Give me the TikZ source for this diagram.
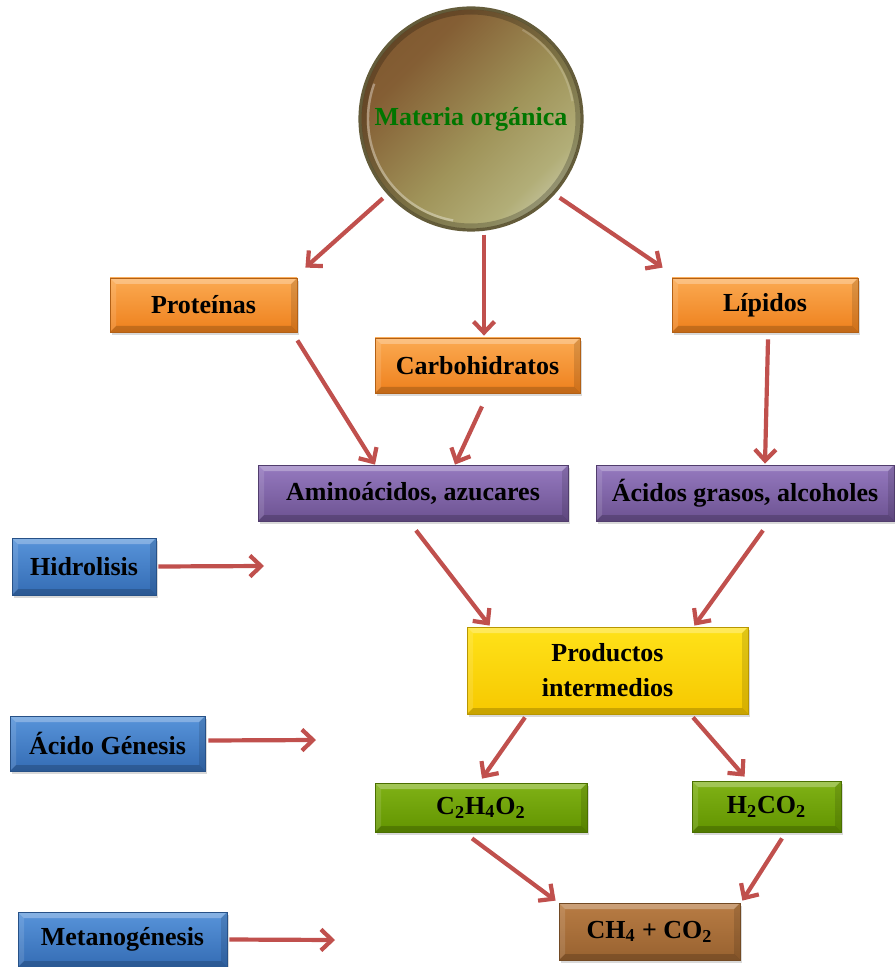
\documentclass[tikz,border=0pt]{standalone}
\usepackage{tikz}
\usepackage{fontspec}
\setmainfont{Liberation Serif}
\usetikzlibrary{arrows.meta,shadows,calc}

% fill colours (top / bottom of each shaded box)
\definecolor{orT}{RGB}{251,170,82}
\definecolor{orB}{RGB}{238,128,28}
\definecolor{puT}{RGB}{150,122,192}
\definecolor{puB}{RGB}{108,82,145}
\definecolor{blT}{RGB}{88,148,218}
\definecolor{blB}{RGB}{52,108,180}
\definecolor{yeT}{RGB}{255,226,25}
\definecolor{yeB}{RGB}{246,200,0}
\definecolor{grT}{RGB}{128,178,22}
\definecolor{grB}{RGB}{98,148,0}
\definecolor{brT}{RGB}{184,124,68}
\definecolor{brB}{RGB}{152,98,48}
\definecolor{arrowred}{RGB}{192,80,77}
\definecolor{orgtext}{RGB}{0,118,0}
\definecolor{rim}{RGB}{100,92,58}

% sphere colours
\definecolor{spA}{RGB}{118,76,38}
\definecolor{spB}{RGB}{132,94,52}
\definecolor{spC}{RGB}{160,148,90}
\definecolor{spD}{RGB}{178,174,120}
\definecolor{spE}{RGB}{205,206,178}
\definecolor{spF}{RGB}{185,182,95}

% shading of the organic matter sphere
\pgfdeclarehorizontalshading{sphere}{100bp}{%
  color(0bp)=(spA); color(32bp)=(spB); color(55bp)=(spC);
  color(70bp)=(spD); color(80bp)=(spE); color(100bp)=(spF)}

\tikzset{
  txt/.style={font=\bfseries\fontsize{13}{17.5}\selectfont, text=black, align=center},
  bevel/.style={
    path picture={
      \fill[white,opacity=.28]
        (path picture bounding box.north west) -- (path picture bounding box.north east)
        -- ([shift={(-3pt,-3pt)}]path picture bounding box.north east)
        -- ([shift={(3pt,-3pt)}]path picture bounding box.north west) -- cycle;
      \fill[white,opacity=.12]
        (path picture bounding box.north west) -- (path picture bounding box.south west)
        -- ([shift={(3pt,3pt)}]path picture bounding box.south west)
        -- ([shift={(3pt,-3pt)}]path picture bounding box.north west) -- cycle;
      \fill[black,opacity=.18]
        (path picture bounding box.south west) -- (path picture bounding box.south east)
        -- ([shift={(-3pt,3pt)}]path picture bounding box.south east)
        -- ([shift={(3pt,3pt)}]path picture bounding box.south west) -- cycle;
      \fill[black,opacity=.12]
        (path picture bounding box.north east) -- (path picture bounding box.south east)
        -- ([shift={(-3pt,3pt)}]path picture bounding box.south east)
        -- ([shift={(-3pt,-3pt)}]path picture bounding box.north east) -- cycle;
    }},
  box/.style n args={3}{txt, rectangle, bevel, top color=#1, bottom color=#2,
    draw=#2!75!black, line width=0.4pt, inner sep=0pt,
    drop shadow={opacity=0.3, shadow xshift=1pt, shadow yshift=-1.5pt},
    minimum height=#3},
  orbox/.style={box={orT}{orB}{#1}},
  pubox/.style={box={puT}{puB}{#1}},
  blbox/.style={box={blT}{blB}{#1}},
  yebox/.style={box={yeT}{yeB}{#1}},
  grbox/.style={box={grT}{grB}{#1}},
  brbox/.style={box={brT}{brB}{#1}},
  arr/.style={draw=arrowred, line width=2.1pt,
    -{Straight Barb[length=5.5pt,width=10.5pt,line width=2.1pt]}},
}

\begin{document}
\begin{tikzpicture}[x=0.5pt,y=-0.5pt]
\useasboundingbox (0,0) rectangle (894,967);

% organic matter sphere with bevelled rim
\node[circle, minimum size=111pt, inner sep=0pt, shading=sphere, shading angle=-45,
      draw=rim, line width=1.6pt,
      font=\bfseries\fontsize{13}{15}\selectfont, text=orgtext] (circ) at (471,119) {Materia orgánica};
\draw[black, opacity=.22, line width=2.5pt] (471,119) circle[radius=107];
\draw[white, opacity=.35, line width=1.2pt] (471,119) ++(100:103) arc[start angle=100, end angle=200, radius=103];
\draw[white, opacity=.18, line width=1pt] (471,119) ++(300:103) arc[start angle=300, end angle=350, radius=103];

% first level
\node[orbox=27pt, minimum width=93.5pt]  (prot) at (203.5,305)  {Proteínas};
\node[orbox=27.5pt, minimum width=102.5pt] (carb) at (477.5,365.5) {Carbohidratos};
\node[orbox=27pt, minimum width=93pt]   (lip)  at (765,305)    {Lípidos};

% second level
\node[pubox=28pt, minimum width=155pt] (amino)  at (413,493) {Aminoácidos, azucares};
\node[pubox=28pt, minimum width=149pt] (acidos) at (745,493) {Ácidos grasos, alcoholes};

% intermediate products
\node[yebox=43.5pt, minimum width=140.5pt] (prod) at (607.5,670.5) {Productos\\intermedios};

% acids
\node[grbox=24.5pt, minimum width=106pt]  (c2) at (481,807.5)   {C\textsubscript{2}H\textsubscript{4}O\textsubscript{2}};
\node[grbox=25.5pt, minimum width=74.5pt] (h2) at (766.5,806.5) {H\textsubscript{2}CO\textsubscript{2}};

% final products
\node[brbox=28.5pt, minimum width=90.5pt] (ch4) at (649.5,931.5) {CH\textsubscript{4} + CO\textsubscript{2}};

% stage labels
\node[blbox=28.5pt, minimum width=72pt]   (hidro) at (84,566.5)    {Hidrolisis};
\node[blbox=27.5pt, minimum width=97.5pt] (acgen) at (107.5,743.5) {Ácido Génesis};
\node[blbox=27.5pt, minimum width=104.5pt] (meta) at (122.5,939.5) {Metanogénesis};

\coordinate (hidroEnd) at (264,566);
\coordinate (acgenEnd) at (316,740);
\coordinate (metaEnd)  at (335,940);

% connectors
\draw[arr, shorten <=3pt] (circ.222) -- ([shift={(8,-10)}]prot.north east);
\draw[arr] ([shift={(13,3)}]circ.south) -- ([shift={(6.5,-2)}]carb.north);
\draw[arr, shorten <=3pt] (circ.318) -- ([shift={(-9,-10)}]lip.north west);

\draw[arr] ([shift={(0,8)}]prot.south east) -- ([shift={(-38,0)}]amino.north);
\draw[arr] ([shift={(4.5,13)}]carb.south) -- ([shift={(42,0)}]amino.north);
\draw[arr] ([shift={(3,7)}]lip.south) -- ([shift={(20,-1)}]acidos.north);

\draw[arr] ([shift={(3,9)}]amino.south) -- ([shift={(23,-1)}]prod.north west);
\draw[arr] ([shift={(18,9)}]acidos.south) -- ([shift={(-54,-1)}]prod.north east);

\draw[arr] ([shift={(-82.5,3)}]prod.south) -- ([shift={(1,-4)}]c2.north);
\draw[arr] ([shift={(85.5,3)}]prod.south) -- ([shift={(53,-4)}]h2.north west);

\draw[arr] ([shift={(-9,6)}]c2.south) -- ([shift={(-3,-2)}]ch4.north west);
\draw[arr] ([shift={(15.5,6)}]h2.south) -- ([shift={(2,-2)}]ch4.north east);

\draw[arr] ([shift={(2,0)}]hidro.east) -- (hidroEnd);
\draw[arr] ([shift={(3,-3)}]acgen.east) -- (acgenEnd);
\draw[arr] ([shift={(2,0)}]meta.east) -- (metaEnd);
\end{tikzpicture}
\end{document}
